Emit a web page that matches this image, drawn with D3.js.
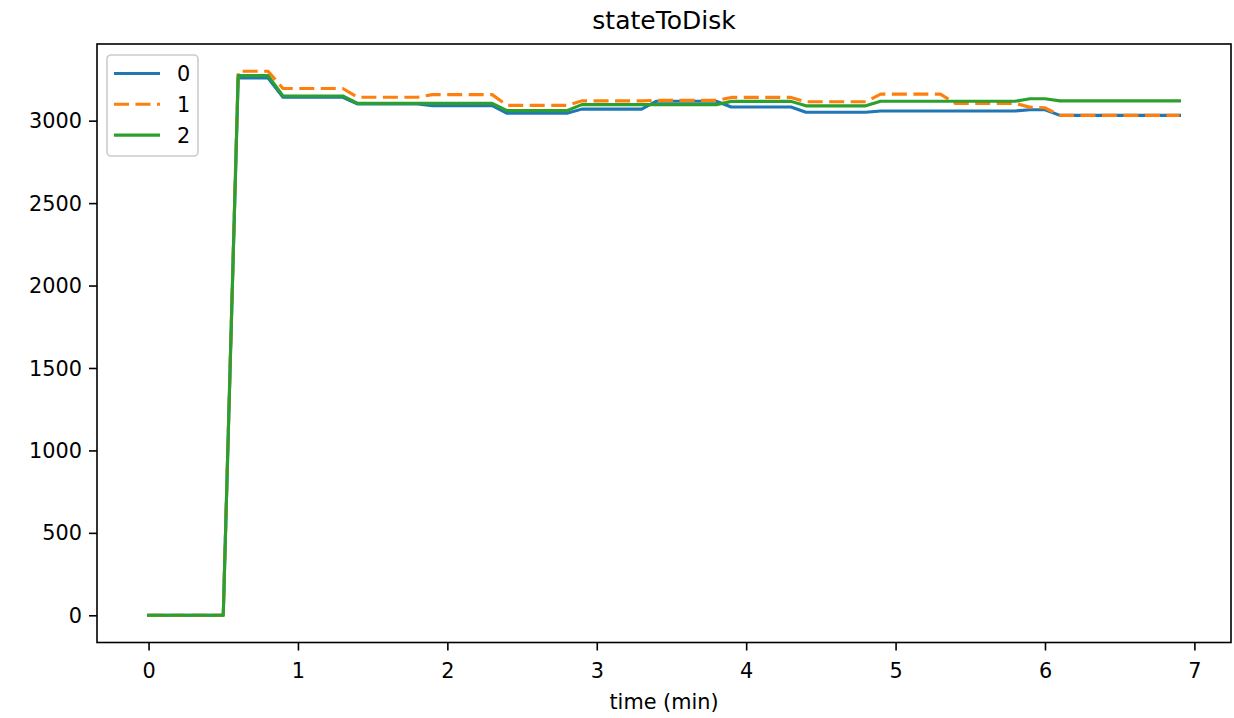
<!DOCTYPE html>
<html>
<head>
<meta charset="utf-8">
<script src="https://d3js.org/d3.v7.min.js"></script>
<style>
    body { margin: 0; background: #fff; }
    svg { display: block; font-family: "DejaVu Sans", sans-serif; }
</style>
</head>
<body>
<svg id="chart" width="1234" height="718"></svg>
<script>
// sample times in minutes, shared by the three series
const minutes = [
    0.0, 0.1, 0.2, 0.3, 0.4, 0.5, 0.6, 0.7, 0.8, 0.9,
    1.0, 1.1, 1.2, 1.3, 1.4, 1.5, 1.6, 1.7, 1.8, 1.9,
    2.0, 2.1, 2.2, 2.3, 2.4, 2.5, 2.6, 2.7, 2.8, 2.9,
    3.0, 3.1, 3.2, 3.3, 3.4, 3.5, 3.6, 3.7, 3.8, 3.9,
    4.0, 4.1, 4.2, 4.3, 4.4, 4.5, 4.6, 4.7, 4.8, 4.9,
    5.0, 5.1, 5.2, 5.3, 5.4, 5.5, 5.6, 5.7, 5.8, 5.9,
    6.0, 6.1, 6.2, 6.3, 6.4, 6.5, 6.6, 6.7, 6.8, 6.9
];

const series0 = [
    0, 0, 0, 0, 0, 0, 3259, 3259, 3259, 3142,
    3142, 3142, 3142, 3142, 3101, 3101, 3101, 3101, 3101, 3091,
    3091, 3091, 3091, 3091, 3045, 3045, 3045, 3045, 3045, 3070,
    3070, 3070, 3070, 3070, 3118, 3118, 3118, 3118, 3118, 3083,
    3083, 3083, 3083, 3083, 3051, 3051, 3051, 3051, 3051, 3059,
    3059, 3059, 3059, 3059, 3059, 3059, 3059, 3059, 3059, 3066,
    3066, 3032, 3032, 3032, 3032, 3032, 3032, 3032, 3032, 3032
];

const series1 = [
    0, 0, 0, 0, 0, 0, 3300, 3300, 3300, 3195,
    3195, 3195, 3195, 3195, 3142, 3142, 3142, 3142, 3142, 3158,
    3158, 3158, 3158, 3158, 3093, 3093, 3093, 3093, 3093, 3120,
    3120, 3120, 3120, 3120, 3123, 3123, 3123, 3123, 3123, 3141,
    3141, 3141, 3141, 3141, 3115, 3115, 3115, 3115, 3115, 3161,
    3161, 3161, 3161, 3161, 3105, 3105, 3105, 3105, 3105, 3082,
    3078, 3032, 3032, 3032, 3032, 3032, 3032, 3032, 3032, 3032
];

const series2 = [
    0, 0, 0, 0, 0, 0, 3273, 3273, 3273, 3150,
    3150, 3150, 3150, 3150, 3105, 3105, 3105, 3105, 3105, 3105,
    3105, 3105, 3105, 3105, 3061, 3061, 3061, 3061, 3061, 3097,
    3097, 3097, 3097, 3097, 3097, 3097, 3097, 3097, 3097, 3117,
    3117, 3117, 3117, 3117, 3090, 3090, 3090, 3090, 3090, 3118,
    3118, 3118, 3118, 3118, 3118, 3118, 3118, 3118, 3118, 3133,
    3133, 3120, 3120, 3120, 3120, 3120, 3120, 3120, 3120, 3120
];

const seriesNames = ['0', '1', '2'];
const xTicks = [0, 1, 2, 3, 4, 5, 6, 7];
const yTicks = [0, 500, 1000, 1500, 2000, 2500, 3000];

const colors = ['#1f77b4', '#ff7f0e', '#2ca02c'],
    dashes = [null, '15,6.5', null],
    plot = { left: 97, top: 44, right: 1231, bottom: 642.5 },
    fontSize = 20.8;

const svg = d3.select('#chart');
const allSeries = [series0, series1, series2];

// matplotlib style 5% margins around the data
function padded(extent) {
    const pad = (extent[1] - extent[0]) * 0.05;
    return [extent[0] - pad, extent[1] + pad];
}

const x = d3.scaleLinear()
    .domain(padded(d3.extent(minutes)))
    .range([plot.left, plot.right]);

const y = d3.scaleLinear()
    .domain(padded([d3.min(allSeries.flat()), d3.max(allSeries.flat())]))
    .range([plot.bottom, plot.top]);

function buildAxes() {
    const xAxis = svg.append('g')
        .attr('transform', `translate(0,${plot.bottom})`)
        .call(d3.axisBottom(x).tickValues(xTicks).tickFormat(d3.format('d'))
            .tickSize(8).tickSizeOuter(0).tickPadding(13));

    const yAxis = svg.append('g')
        .attr('transform', `translate(${plot.left},0)`)
        .call(d3.axisLeft(y).tickValues(yTicks).tickFormat(d3.format('d'))
            .tickSize(8).tickSizeOuter(0).tickPadding(7));

    [xAxis, yAxis].forEach(g => {
        g.select('.domain').remove();
        g.attr('font-family', null).attr('font-size', null);
        g.selectAll('line').attr('stroke', '#000').attr('stroke-width', 1.6);
        g.selectAll('text')
            .attr('fill', '#000')
            .style('font-size', fontSize + 'px');
    });
    yAxis.selectAll('text').attr('dy', '0.34em');
}

function buildLines() {
    const line = d3.line()
        .x((d, i) => x(minutes[i]))
        .y(d => y(d));

    allSeries.forEach((values, i) => {
        svg.append('path')
            .datum(values)
            .attr('d', line)
            .attr('fill', 'none')
            .attr('stroke', colors[i])
            .attr('stroke-width', 3.1)
            .attr('stroke-linejoin', 'round')
            .attr('stroke-linecap', dashes[i] ? 'butt' : 'square')
            .attr('stroke-dasharray', dashes[i]);
    });
}

function buildFrame() {
    svg.append('rect')
        .attr('x', plot.left)
        .attr('y', plot.top)
        .attr('width', plot.right - plot.left)
        .attr('height', plot.bottom - plot.top)
        .attr('fill', 'none')
        .attr('stroke', '#000')
        .attr('stroke-width', 1.6);
}

function buildLegend() {
    const g = svg.append('g').attr('transform', 'translate(107,55)');

    g.append('rect')
        .attr('width', 91)
        .attr('height', 101)
        .attr('rx', 4)
        .attr('fill', '#fff')
        .attr('fill-opacity', 0.8)
        .attr('stroke', '#cccccc')
        .attr('stroke-width', 1.6);

    const rows = g.selectAll('g.row')
        .data(seriesNames)
        .join('g')
        .attr('class', 'row')
        .attr('transform', (d, i) => `translate(0,${18.5 + i * 30.8})`);

    rows.append('line')
        .attr('x1', 7)
        .attr('x2', 53)
        .attr('stroke', (d, i) => colors[i])
        .attr('stroke-width', 3.1)
        .attr('stroke-dasharray', (d, i) => dashes[i]);

    rows.append('text')
        .attr('x', 70)
        .attr('dy', '0.36em')
        .style('font-size', fontSize + 'px')
        .text(d => d);
}

function buildLabels() {
    const mid = (plot.left + plot.right) / 2;

    svg.append('text')
        .attr('x', mid)
        .attr('y', 29)
        .attr('text-anchor', 'middle')
        .style('font-size', '25px')
        .text('stateToDisk');

    svg.append('text')
        .attr('x', mid)
        .attr('y', 709)
        .attr('text-anchor', 'middle')
        .style('font-size', fontSize + 'px')
        .text('time (min)');
}

buildAxes();
buildLines();
buildFrame();
buildLegend();
buildLabels();
</script>
</body>
</html>
